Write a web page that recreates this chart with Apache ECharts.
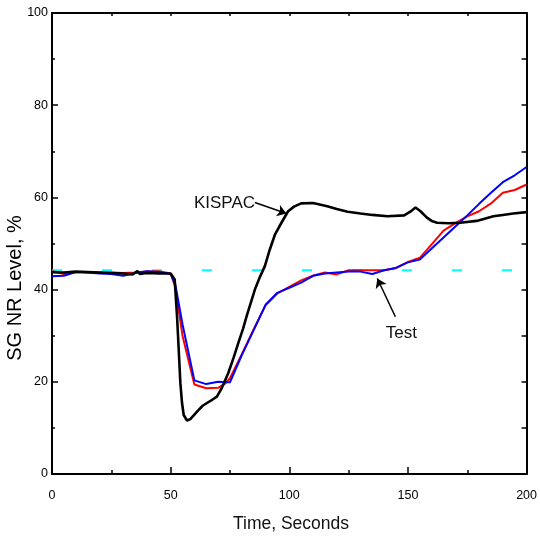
<!DOCTYPE html>
<html><head><meta charset="utf-8">
<script src="https://cdn.jsdelivr.net/npm/echarts@6/dist/echarts.min.js"></script>
<style>html,body{margin:0;padding:0;background:#fff}#c{width:540px;height:536px}</style>
</head><body><div id="c"></div><script>
const testTime = [0,5,10,15,20,25,30,35,40,45,50,52,55,60,65,70,73,75,80,85,90,95,100,105,110,115,120,125,130,135,140,145,150,155,160,165,170,175,180,185,190,195,200];
const testRed = [44.0,43.4,43.8,43.8,43.7,43.7,43.6,43.7,43.9,44.0,43.5,40.5,30.0,19.4,18.6,18.7,19.6,20.8,26.0,31.4,36.6,39.2,40.6,42.0,43.0,43.7,43.3,44.2,44.2,44.2,44.2,44.7,46.0,46.9,49.8,52.8,54.4,55.9,57.0,58.7,61.0,61.6,62.8];
const testBlue = [42.9,43.0,43.8,43.7,43.5,43.4,43.0,43.6,44.0,43.8,43.4,41.0,32.5,20.3,19.5,20.0,19.9,19.9,25.8,31.2,36.7,39.3,40.4,41.5,43.0,43.5,43.7,43.9,43.9,43.4,44.2,44.7,45.9,46.5,48.9,51.3,53.7,56.1,58.6,61.0,63.3,64.8,66.6];
const kispacTime = [0,5,10,15,20,25,30,34,36,37,40,45,50,51.7,52.7,53.4,54.1,54.8,55.5,56.9,58.3,60,61.8,63.5,65.3,67.5,69.5,71.5,74.3,76.5,78.5,80.5,82,85.5,87.5,89.7,91.8,94,96.7,99.5,102,105,110,116,120,124.6,130,135,141.4,148.4,151,153.2,155.3,158,160,162.3,167,172,179,186,190,194.4,200];
const kispacLevel = [43.8,43.7,43.9,43.8,43.7,43.6,43.5,43.3,44.0,43.4,43.6,43.5,43.5,42.2,34.2,27.0,19.7,15.4,12.8,11.6,11.9,12.9,13.9,14.8,15.4,16.1,16.8,18.6,21.9,25.2,28.4,31.5,34.2,40.0,42.6,45.1,48.7,52.0,54.5,57.0,58.0,58.7,58.8,58.1,57.5,56.9,56.5,56.2,55.9,56.1,56.9,57.8,57.0,55.6,54.9,54.5,54.4,54.5,54.9,55.9,56.2,56.5,56.8];
const refTime = [0,200];
const refLevel = [44.2,44.2];
const xTickLabels = ['0','50','100','150','200'];
const yTickLabels = ['0','20','40','60','80','100'];

const pairs = (xs, ys) => xs.map((x,i)=>[x, ys[i]]);
const FONT = 'Liberation Sans, Arial, sans-serif';
const chart = echarts.init(document.getElementById('c'), null, {renderer:'canvas'});
const axisLine = {show:true, onZero:false, lineStyle:{color:'#000', width:2}};
chart.setOption({
  animation:false,
  backgroundColor:'#fff',
  grid:{left:52, right:10, top:13, bottom:62, containLabel:false},
  xAxis:[
    {type:'value', min:0, max:200, interval:50, position:'bottom', axisLine,
     axisTick:{show:true, inside:true, length:7, lineStyle:{color:'#000', width:1.5}},
     minorTick:{show:true, splitNumber:2, length:4, lineStyle:{color:'#000', width:1.5}},
     axisLabel:{margin:15, fontSize:12.5, color:'#000', fontFamily:FONT, formatter:(v)=>xTickLabels[Math.round(v/50)]},
     splitLine:{show:false}, minorSplitLine:{show:false}},
    {type:'value', min:0, max:200, interval:25, position:'top', axisLine,
     axisTick:{show:true, inside:true, length:3, lineStyle:{color:'#000', width:1.5}},
     axisLabel:{show:false}, splitLine:{show:false}}
  ],
  yAxis:[
    {type:'value', min:0, max:100, interval:20, position:'left', axisLine,
     axisTick:{show:true, inside:true, length:6, lineStyle:{color:'#000', width:1.5}},
     minorTick:{show:true, splitNumber:2, length:3, lineStyle:{color:'#000', width:1.5}},
     axisLabel:{margin:4, fontSize:12.5, color:'#000', fontFamily:FONT, formatter:(v)=>yTickLabels[Math.round(v/20)]},
     splitLine:{show:false}, minorSplitLine:{show:false}},
    {type:'value', min:0, max:100, interval:10, position:'right', axisLine,
     axisTick:{show:true, inside:true, length:5, lineStyle:{color:'#000', width:1.5}},
     axisLabel:{show:false}, splitLine:{show:false}}
  ],
  series:[
    {type:'line', name:'Reference', xAxisIndex:1, yAxisIndex:1, data:pairs(refTime, refLevel), showSymbol:false, symbol:'none',
     lineStyle:{color:'#00ffff', width:2, type:[10,40]}, z:2},
    {type:'line', name:'Test A', data:pairs(testTime, testRed), showSymbol:false, symbol:'none',
     lineStyle:{color:'#ff0000', width:2}, z:3},
    {type:'line', name:'Test B', data:pairs(testTime, testBlue), showSymbol:false, symbol:'none',
     lineStyle:{color:'#0000ff', width:2}, z:4},
    {type:'line', name:'KISPAC', data:pairs(kispacTime, kispacLevel), showSymbol:false, symbol:'none',
     lineStyle:{color:'#000', width:2.6}, z:5,
     markLine:{silent:true, symbol:['none','arrow'], symbolSize:9, animation:false,
       lineStyle:{color:'#000', width:1.5, type:'solid'}, label:{show:false},
       data:[[{coord:[85.5,58.9]},{coord:[98.8,56.5]}],[{coord:[144.7,34.1]},{coord:[137.1,42.4]}]]}}
  ]
});
const p1 = chart.convertToPixel({xAxisIndex:0, yAxisIndex:0}, [72.7, 58.8]);
const p2 = chart.convertToPixel({xAxisIndex:0, yAxisIndex:0}, [147.2, 30.6]);
chart.setOption({graphic:[
  {type:'text', x:p1[0], y:p1[1], style:{text:'KISPAC', font:'17px '+FONT, fill:'#111', align:'center', verticalAlign:'middle'}},
  {type:'text', x:p2[0], y:p2[1], style:{text:'Test', font:'17px '+FONT, fill:'#111', align:'center', verticalAlign:'middle'}},
  {type:'text', x:15, y:288, rotation:Math.PI/2, style:{text:'SG NR Level, %', font:'20px '+FONT, fill:'#000', align:'center', verticalAlign:'middle'}},
  {type:'text', x:291, y:524, style:{text:'Time, Seconds', font:'17.5px '+FONT, fill:'#111', align:'center', verticalAlign:'middle'}}
]});
</script></body></html>
